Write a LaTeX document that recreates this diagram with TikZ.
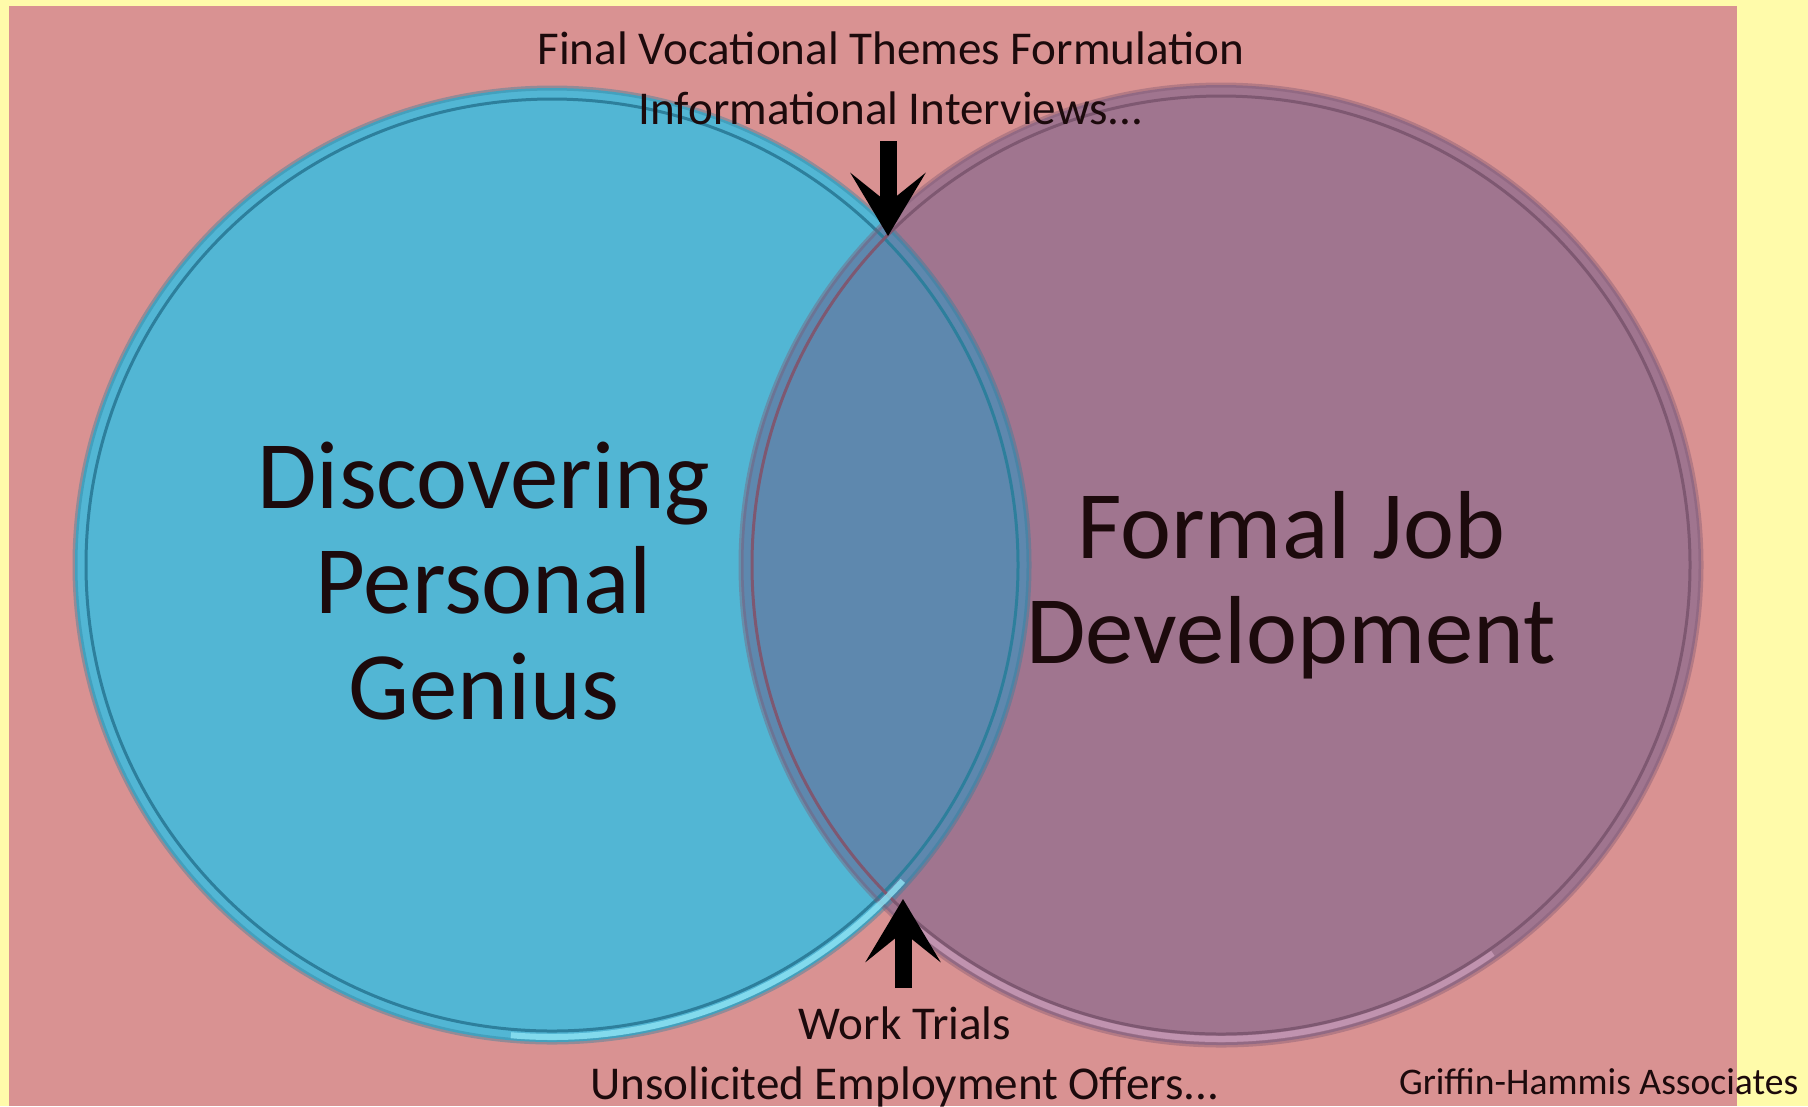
\documentclass[tikz,border=0pt]{standalone}
\usepackage{fontspec}
\setmainfont{Carlito}
\usetikzlibrary{arrows.meta}
\definecolor{pagebg}{HTML}{FFFBAA}
\definecolor{slide}{HTML}{D99292}
\definecolor{genius}{HTML}{52B6D4}
\definecolor{geniusrim}{HTML}{2D7F9C}
\definecolor{geniuslight}{HTML}{8FE4F4}
\definecolor{jobdev}{HTML}{A0758F}
\definecolor{jobdevrim}{HTML}{7E5871}
\definecolor{jobdevlight}{HTML}{C99BB8}
\definecolor{overlap}{HTML}{5E88AE}
\definecolor{ink}{HTML}{1C0A0C}
\begin{document}
\begin{tikzpicture}[x=0.1mm, y=-0.1mm,
    bigtext/.style={text=ink, align=center, font=\fontsize{27.5}{29.9}\selectfont},
    smalltext/.style={text=ink, align=center, font=\fontsize{13.4}{17}\selectfont},
    pointer/.style={black, line width=1.7mm, -{Stealth[length=6.3mm, width=7.5mm, inset=3mm]}}]
  \useasboundingbox (0,0) rectangle (1808,1106);
  % background
  \fill[pagebg] (0,0) rectangle (1808,1106);
  \fill[slide] (9,6) rectangle (1737,1106);
  % circles
  \fill[genius] (552,565) circle[radius=477];
  \fill[jobdev] (1221,565) circle[radius=480];
  \begin{scope}
    \clip (552,565) circle[radius=477];
    \fill[overlap] (1221,565) circle[radius=480];
  \end{scope}
  % rims
  \draw[geniusrim, line width=0.5mm, opacity=0.4] (552,565) circle[radius=477];
  \draw[geniusrim, line width=0.3mm] (552,565) circle[radius=466];
  \draw[jobdevrim, line width=0.5mm, opacity=0.4] (1221,565) circle[radius=480];
  \draw[jobdevrim, line width=0.3mm] (1221,565) circle[radius=469];
  \draw[geniuslight, line width=0.6mm, opacity=0.8] (552,565) ++(42:472) arc[start angle=42, end angle=95, radius=472];
  \draw[jobdevlight, line width=0.6mm, opacity=0.8] (1221,565) ++(55:474) arc[start angle=55, end angle=130, radius=474];
  % text
  \node[bigtext] (disc) at (484,581) {Discovering\\Personal\\Genius};
  \node[bigtext] (formal) at (1291,585) {Formal Job\\Development};
  \node[smalltext] (topnote) at (891,78) {Final Vocational Themes Formulation\\Informational Interviews...};
  \node[smalltext] (botnote) at (905,1057) {Work Trials\\Unsolicited Employment Offers...};
  \node[smalltext, anchor=east, inner sep=0pt, font=\fontsize{10.7}{13}\selectfont] (credit) at (1799,1082) {Griffin-Hammis Associates};
  % arrows
  \coordinate (topTail) at (888,141);
  \coordinate (topTip) at (888,236);
  \coordinate (botTail) at (903,988);
  \coordinate (botTip) at (903,899);
  \draw[pointer] (topTail) -- (topTip);
  \draw[pointer] (botTail) -- (botTip);
\end{tikzpicture}
\end{document}
